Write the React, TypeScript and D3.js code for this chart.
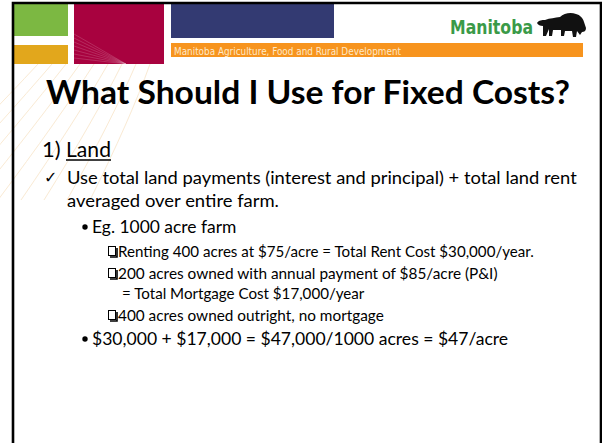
import React from "react";
import * as d3 from "d3";

const W = 602;
const H = 443;

const headerOrg = "Manitoba Agriculture, Food and Rural Development";
const logoText = "Manitoba";
const titleText = "What Should I Use for Fixed Costs?";
const sectionNumber = "1)";
const sectionName = "Land";
const checkLines = [
  "Use total land payments (interest and principal) + total land rent",
  "averaged over entire farm.",
];
const exampleHeading = "Eg. 1000 acre farm";
const exampleItems = [
  ["Renting 400 acres at $75/acre = Total Rent Cost $30,000/year."],
  ["200 acres owned with annual payment of $85/acre (P&I)", "= Total Mortgage Cost $17,000/year"],
  ["400 acres owned outright, no mortgage"],
];
const summaryLine = "$30,000 + $17,000 = $47,000/1000 acres = $47/acre";

// Calibri-like widths (em) of the lines, used to fit a substitute font
const checkEm = [26.14, 10.87];
const itemEm = [[25.2], [23.0, 14.69], [16.11]];
const egEm = 7.6;
const summaryEm = 21.9;

const FONT = "Lato, 'Open Sans', sans-serif";
const K = 0.9; // Lato size relative to the Calibri size it stands for

export default function App() {
  const ys = {
    title: 104,
    section: 157,
    check: [184, 207],
    eg: 233,
    items: [[257], [279, 299], [321]],
    summary: 345,
  };
  const L2 = 19.5; // level-2 size (Calibri px)
  const L3 = 19; // level-3 size
  const L4 = 16.5; // level-4 size

  const rays = d3.range(9).map((i) => {
    const p = d3.path();
    const x0 = 150 - i * 14;
    p.moveTo(x0, 64);
    p.quadraticCurveTo(x0 - 20 - i * 4, 120, x0 - 60 - i * 9, 200);
    return p.toString();
  });

  const bison =
    "M0,10 C2,7 5,7 8,7 C13,5 18,5 23,4 C27,0 34,-1 39,1 C43,2 46,5 47,9 L49,15 C49,18 47,19 45,19 L43,22 L40,18 L39,24 L36,24 L35,18 L28,18 L27,23 L24,23 L24,17 L16,17 L15,23 L12,23 L12,16 L9,23 L6,23 L6,13 C3,13 1,12 0,10 Z";

  return (
    <svg width={W} height={H} style={{ position: "absolute", left: 0, top: 0, background: "#fff" }}>
      <rect x={0} y={0} width={W} height={H} fill="#fff" />
      <g stroke="#f8e2c2" strokeWidth={1} fill="none" opacity={0.7}>
        {rays.map((d, i) => (
          <path key={i} d={d} />
        ))}
      </g>
      {/* header blocks */}
      <rect x={14} y={4} width={54} height={32} fill="#7cb842" />
      <rect x={14} y={45} width={54} height={19} fill="#e2a71c" />
      <rect x={74} y={4} width={90} height={60} fill="#a8023f" />
      <g stroke="#ffffff" strokeOpacity={0.16} strokeWidth={1}>
        {d3.range(7).map((i) => (
          <line key={i} x1={74} y1={34 + i * 4} x2={126} y2={64} />
        ))}
      </g>
      <rect x={171} y={4} width={163} height={34} fill="#333a72" />
      <rect x={171} y={43} width={412} height={14} fill="#f7941e" />
      <text x={174} y={54.5} fontFamily="'DejaVu Sans Condensed', 'Liberation Sans Narrow', sans-serif" fontSize={10} fill="#fde9c8" textLength={227} lengthAdjust="spacingAndGlyphs">
        {headerOrg}
      </text>
      <text x={450} y={34} fontFamily="'DejaVu Sans', sans-serif" fontWeight="bold" fontSize={19} fill="#3a9a48" textLength={83} lengthAdjust="spacingAndGlyphs">
        {logoText}
      </text>
      <path d={bison} transform="translate(537,13)" fill="#111" />
      {/* border */}
      <path d={`M13,${H} L13,3 L601,3 L601,${H}`} fill="none" stroke="#000" strokeWidth={2.6} />

      {/* title */}
      <text x={46} y={ys.title} fontFamily={FONT} fontWeight="bold" fontSize={32} fill="#000" textLength={524} lengthAdjust="spacingAndGlyphs">
        {titleText}
      </text>

      {/* section */}
      <text x={42} y={ys.section} fontFamily={FONT} fontSize={23 * K} fill="#000" textLength={18.6} lengthAdjust="spacingAndGlyphs">
        {sectionNumber}
      </text>
      <text x={66} y={ys.section} fontFamily={FONT} fontSize={23 * K} fill="#000" textLength={45} lengthAdjust="spacingAndGlyphs">
        {sectionName}
      </text>
      <line x1={66} x2={111} y1={ys.section + 3} y2={ys.section + 3} stroke="#000" strokeWidth={1.6} />

      {/* check lines */}
      <text x={44} y={ys.check[0] - 1} fontFamily="'DejaVu Sans', sans-serif" fontSize={16} fill="#000">
        ✓
      </text>
      {checkLines.map((t, i) => (
        <text key={i} x={67} y={ys.check[i]} fontFamily={FONT} fontSize={L2 * K} fill="#000" textLength={checkEm[i] * L2} lengthAdjust="spacingAndGlyphs">
          {t}
        </text>
      ))}

      {/* example heading */}
      <circle cx={85} cy={ys.eg - 6} r={2.7} fill="#000" />
      <text x={92} y={ys.eg} fontFamily={FONT} fontSize={L3 * K} fill="#000" textLength={egEm * L3} lengthAdjust="spacingAndGlyphs">
        {exampleHeading}
      </text>

      {/* example items */}
      {exampleItems.map((lines, i) => {
        const b = ys.items[i][0];
        return (
          <g key={i}>
            <rect x={108.5} y={b - 10.5} width={7} height={9} fill="#fff" stroke="#000" strokeWidth={1} />
            <path d={`M110,${b} L117,${b} L117,${b - 9}`} stroke="#000" strokeWidth={1.6} fill="none" />
            {lines.map((t, j) => (
              <text key={j} x={j === 0 ? 118 : 122} y={ys.items[i][j]} fontFamily={FONT} fontSize={L4 * K} fill="#000" textLength={itemEm[i][j] * L4} lengthAdjust="spacingAndGlyphs">
                {t}
              </text>
            ))}
          </g>
        );
      })}

      {/* summary */}
      <circle cx={85} cy={ys.summary - 6} r={2.7} fill="#000" />
      <text x={92} y={ys.summary} fontFamily={FONT} fontSize={L3 * K} fill="#000" textLength={summaryEm * L3} lengthAdjust="spacingAndGlyphs">
        {summaryLine}
      </text>
    </svg>
  );
}
